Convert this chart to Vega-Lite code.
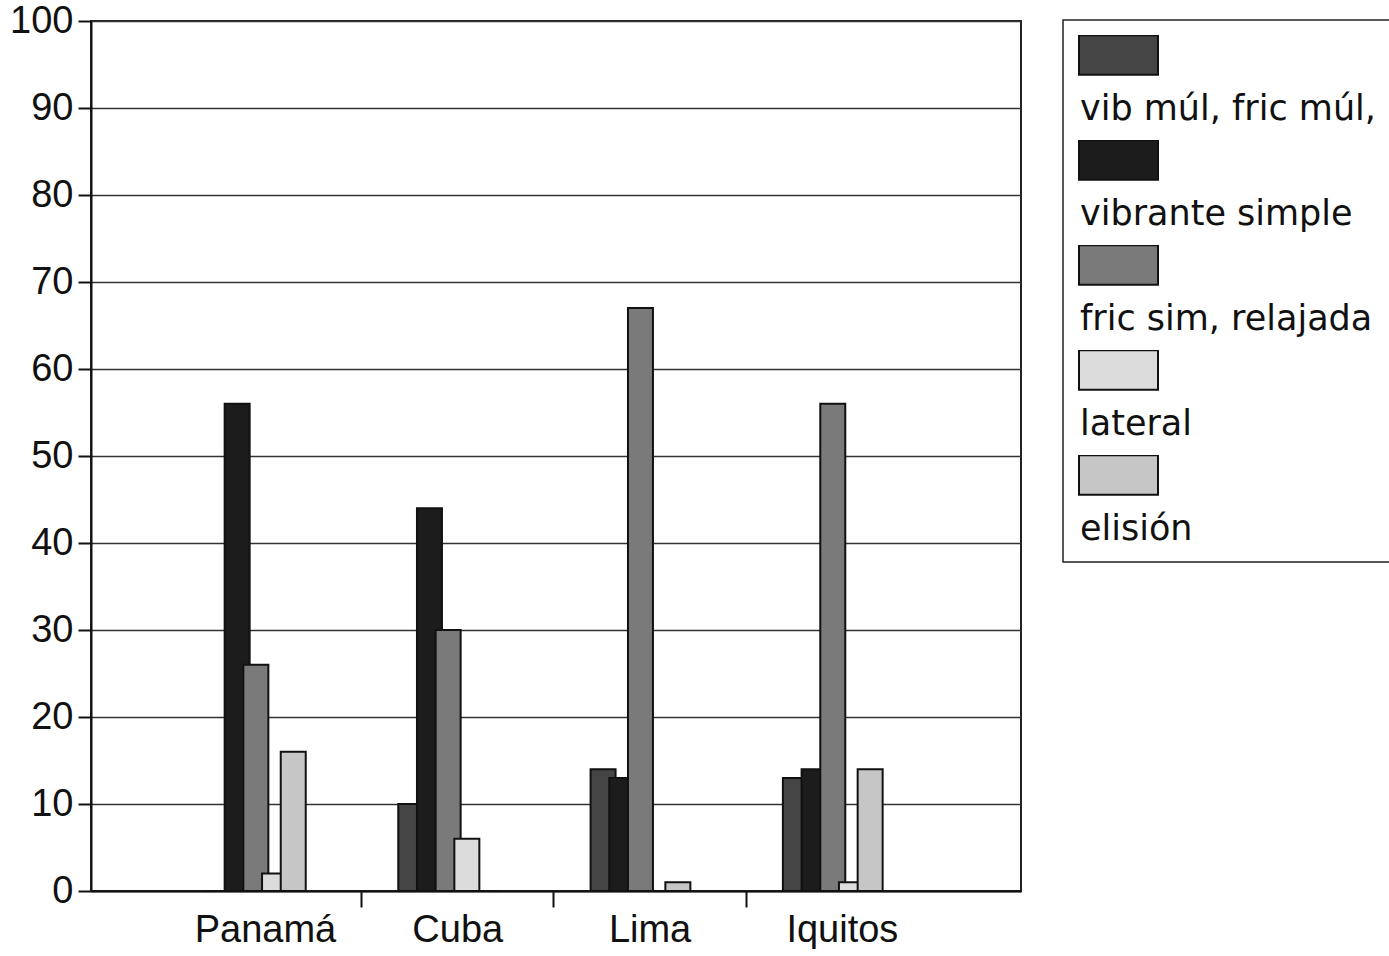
{
  "$schema": "https://vega.github.io/schema/vega-lite/v6.json",
  "width": 930,
  "height": 870,
  "padding": {"left": 9, "top": 2, "right": 0, "bottom": 0},
  "background": "white",
  "config": {
    "font": "Liberation Sans",
    "view": {"stroke": "#222", "strokeWidth": 2},
    "axis": {
      "labelFont": "Liberation Sans",
      "labelFontSize": 38,
      "labelColor": "#111",
      "domainColor": "#111",
      "domainWidth": 2,
      "tickColor": "#111",
      "tickWidth": 2
    },
    "legend": {"strokeWidth": 1.5}
  },
  "data": {
    "values": [
      {"ciudad": "Panamá", "tipo": "vib múl, fric múl,", "pct": 0},
      {"ciudad": "Panamá", "tipo": "vibrante simple", "pct": 56},
      {"ciudad": "Panamá", "tipo": "fric sim, relajada", "pct": 26},
      {"ciudad": "Panamá", "tipo": "lateral", "pct": 2},
      {"ciudad": "Panamá", "tipo": "elisión", "pct": 16},
      {"ciudad": "Cuba", "tipo": "vib múl, fric múl,", "pct": 10},
      {"ciudad": "Cuba", "tipo": "vibrante simple", "pct": 44},
      {"ciudad": "Cuba", "tipo": "fric sim, relajada", "pct": 30},
      {"ciudad": "Cuba", "tipo": "lateral", "pct": 6},
      {"ciudad": "Cuba", "tipo": "elisión", "pct": 0},
      {"ciudad": "Lima", "tipo": "vib múl, fric múl,", "pct": 14},
      {"ciudad": "Lima", "tipo": "vibrante simple", "pct": 13},
      {"ciudad": "Lima", "tipo": "fric sim, relajada", "pct": 67},
      {"ciudad": "Lima", "tipo": "lateral", "pct": 0},
      {"ciudad": "Lima", "tipo": "elisión", "pct": 1},
      {"ciudad": "Iquitos", "tipo": "vib múl, fric múl,", "pct": 13},
      {"ciudad": "Iquitos", "tipo": "vibrante simple", "pct": 14},
      {"ciudad": "Iquitos", "tipo": "fric sim, relajada", "pct": 56},
      {"ciudad": "Iquitos", "tipo": "lateral", "pct": 1},
      {"ciudad": "Iquitos", "tipo": "elisión", "pct": 14}
    ]
  },
  "mark": {"type": "bar", "stroke": "#111", "strokeWidth": 2, "width": {"band": 1.337}},
  "encoding": {
    "x": {
      "field": "ciudad",
      "type": "nominal",
      "sort": ["Panamá", "Cuba", "Lima", "Iquitos"],
      "scale": {"paddingInner": 0.514, "paddingOuter": 0.675, "align": 0.5035},
      "axis": {
        "title": null,
        "labelAngle": 0,
        "bandPosition": 1.529,
        "tickOffset": -3.5,
        "labelOffset": 0,
        "tickSize": 16,
        "labelPadding": 4,
        "tickOpacity": {"condition": {"test": "datum.value === 'Iquitos'", "value": 0}, "value": 1}
      }
    },
    "xOffset": {
      "field": "tipo",
      "type": "nominal",
      "sort": ["vib múl, fric múl,", "vibrante simple", "fric sim, relajada", "lateral", "elisión"],
      "scale": {"paddingInner": 0, "paddingOuter": 0}
    },
    "y": {
      "field": "pct",
      "type": "quantitative",
      "scale": {"domain": [0, 100], "nice": false},
      "axis": {
        "title": null,
        "values": [0, 10, 20, 30, 40, 50, 60, 70, 80, 90, 100],
        "grid": true,
        "gridColor": "#333",
        "gridWidth": 1.3,
        "tickSize": 13,
        "labelPadding": 5
      }
    },
    "fill": {
      "field": "tipo",
      "type": "nominal",
      "sort": ["vib múl, fric múl,", "vibrante simple", "fric sim, relajada", "lateral", "elisión"],
      "scale": {
        "domain": ["vib múl, fric múl,", "vibrante simple", "fric sim, relajada", "lateral", "elisión"],
        "range": ["#454545", "#1c1c1c", "#7a7a7a", "#dcdcdc", "#c6c6c6"]
      },
      "legend": {
        "orient": "none",
        "legendX": 972,
        "legendY": -1,
        "title": null,
        "padding": 15,
        "strokeColor": "#222",
        "direction": "vertical",
        "symbolType": "M-1,-0.5H1V0.5H-1Z",
        "symbolSize": 6241,
        "symbolStrokeColor": "#111",
        "symbolStrokeWidth": 2,
        "symbolOpacity": 1,
        "clipHeight": 40,
        "labelFont": "DejaVu Sans",
        "labelFontSize": 35,
        "labelColor": "#111",
        "labelLimit": 600,
        "labelOffset": -79,
        "labelBaseline": "top",
        "labelExpr": "['', datum.label]",
        "rowPadding": 13
      }
    }
  }
}
